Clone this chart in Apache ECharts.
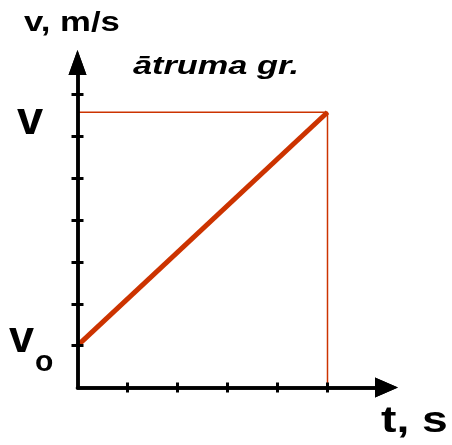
<!DOCTYPE html>
<html>
<head>
<meta charset="utf-8">
<script src="https://cdn.jsdelivr.net/npm/echarts@6/dist/echarts.min.js"></script>
<style>
  html, body { margin: 0; padding: 0; background: #fff; }
  #chart { width: 452px; height: 445px; }
</style>
</head>
<body>
<div id="chart"></div>
<script>
// ātruma grafiks: v(t) vienmērīgi paātrinātai kustībai
const tValues = [0, 5];
const vValues = [1, 6.58];
const tTicks = [1, 2, 3, 4, 5];
const vTicks = [1, 2, 3, 4, 5, 6, 7];
const tMax = 6.18;
const vMax = 7.77;

const red = '#cc3300';
const black = '#000';
const labelFont = 'Liberation Sans, Arial, sans-serif';

const chart = echarts.init(document.getElementById('chart'), null, { renderer: 'canvas' });

// līnija v0 -> v
const speedLine = tValues.map((t, i) => [t, vValues[i]]);
// palīglīnijas uz v un t asīm
const guideLine = [[0, vValues[1]], [tValues[1], vValues[1]], [tValues[1], 0]];

const tickStyle = { color: black, width: 3 };
const gridBox = { left: 77.5, right: 65.5, top: 62.5, bottom: 57.5, containLabel: false };

// divi vienādi režģi: viens ar ārējām, otrs ar iekšējām iedaļām (iedaļas šķērso asi)
function xAxisOf(gridIndex, inside) {
  return {
    type: 'value', gridIndex: gridIndex, position: 'bottom',
    min: 0, max: tMax, interval: 1, z: 3,
    axisLine: {
      show: true, onZero: false,
      symbol: ['none', 'triangle'], symbolSize: [20, 23],
      lineStyle: { color: black, width: 3.5 }
    },
    axisTick: { show: true, inside: inside, length: 5, customValues: tTicks, lineStyle: tickStyle },
    axisLabel: { show: false },
    splitLine: { show: false }
  };
}

function yAxisOf(gridIndex, inside) {
  return {
    type: 'value', gridIndex: gridIndex, position: 'left',
    min: 0, max: vMax, interval: 1, z: 3,
    axisLine: {
      show: true, onZero: false,
      symbol: ['none', 'triangle'], symbolSize: [18, 25],
      lineStyle: { color: black, width: 3.5 }
    },
    axisTick: { show: true, inside: inside, length: 6, customValues: vTicks, lineStyle: tickStyle },
    axisLabel: { show: false },
    splitLine: { show: false }
  };
}

const option = {
  animation: false,
  grid: [Object.assign({}, gridBox), Object.assign({}, gridBox)],
  xAxis: [xAxisOf(0, false), xAxisOf(1, true)],
  yAxis: [yAxisOf(0, false), yAxisOf(1, true)],
  series: [
    {
      type: 'line', data: guideLine, showSymbol: false, z: 1,
      lineStyle: { color: red, width: 1.5 }
    },
    {
      type: 'line', data: speedLine, showSymbol: false, z: 2,
      lineStyle: { color: red, width: 5 }
    }
  ],
  graphic: [
    { type: 'text', x: 24, y: 23.5, scaleX: 1.24,
      style: { text: 'v, m/s', font: 'bold 28px ' + labelFont, fill: black, verticalAlign: 'middle', align: 'left' } },
    { type: 'text', x: 133, y: 67, scaleX: 1.32,
      style: { text: 'ātruma gr.', font: 'italic bold 26px ' + labelFont, fill: black, verticalAlign: 'middle', align: 'left' } },
    { type: 'text', x: 381, y: 422, scaleX: 1.25,
      style: { text: 't, s', font: 'bold 37px ' + labelFont, fill: black, verticalAlign: 'middle', align: 'left' } },
    { type: 'text', x: 17, y: 121,
      style: { text: 'v', font: 'bold 47px ' + labelFont, fill: black, verticalAlign: 'middle', align: 'left' } },
    { type: 'text', x: 9, y: 339.5,
      style: { text: 'v', font: 'bold 45px ' + labelFont, fill: black, verticalAlign: 'middle', align: 'left' } },
    { type: 'text', x: 35, y: 362.5,
      style: { text: 'o', font: 'bold 30px ' + labelFont, fill: black, verticalAlign: 'middle', align: 'left' } }
  ]
};

chart.setOption(option);
</script>
</body>
</html>
